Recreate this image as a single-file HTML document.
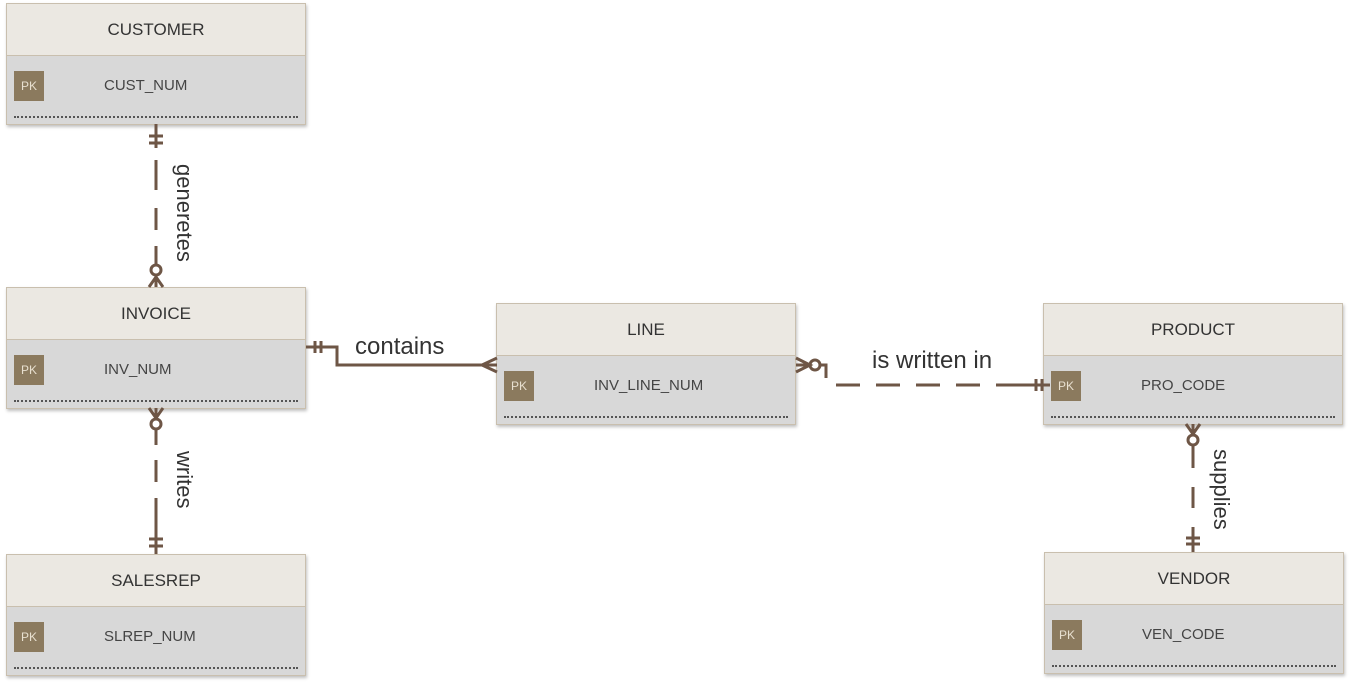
<!DOCTYPE html><html><head><style>
body{margin:0;width:1351px;height:685px;background:#fff;position:relative;overflow:hidden;font-family:"Liberation Sans",sans-serif}
.e{position:absolute;width:298px;height:120px;border:1px solid #c9bfae;box-shadow:1px 2px 3px rgba(0,0,0,.25);background:#d8d8d8}
.h{height:51px;background:#ebe8e2;border-bottom:1px solid #c9bfae;text-align:center;line-height:51px;font-size:17px;color:#333}
.pk{position:absolute;left:7px;top:67px;width:30px;height:30px;background:#8b7a5e;color:#e8e0d0;font-size:12px;line-height:30px;text-align:center}
.a{position:absolute;left:97px;top:67px;line-height:30px;font-size:15px;color:#444}
.d{position:absolute;left:7px;right:7px;top:112px;border-top:2px dotted #555}
.l{position:absolute;font-size:22px;color:#333;white-space:nowrap}
.v{transform-origin:0 0;transform:rotate(90deg)}
</style></head><body>
<div class="e" style="left:6px;top:3px"><div class="h">CUSTOMER</div><div class="pk">PK</div><div class="a">CUST_NUM</div><div class="d"></div></div>
<div class="e" style="left:6px;top:287px"><div class="h">INVOICE</div><div class="pk">PK</div><div class="a">INV_NUM</div><div class="d"></div></div>
<div class="e" style="left:6px;top:554px"><div class="h">SALESREP</div><div class="pk">PK</div><div class="a">SLREP_NUM</div><div class="d"></div></div>
<div class="e" style="left:496px;top:303px"><div class="h">LINE</div><div class="pk">PK</div><div class="a">INV_LINE_NUM</div><div class="d"></div></div>
<div class="e" style="left:1043px;top:303px"><div class="h">PRODUCT</div><div class="pk">PK</div><div class="a">PRO_CODE</div><div class="d"></div></div>
<div class="e" style="left:1044px;top:552px"><div class="h">VENDOR</div><div class="pk">PK</div><div class="a">VEN_CODE</div><div class="d"></div></div>
<svg width="1351" height="685" style="position:absolute;left:0;top:0" fill="none" stroke="#6e5646" stroke-width="3">
<path d="M156 124V148M149 136H163M149 143H163"/>
<path d="M156 160V190M156 208V230M156 246V264" />
<circle cx="156" cy="270" r="5"/>
<path d="M156 275V287M149 287L156 277L163 287"/>
<path d="M149 408L156 418L163 408M156 408V419"/>
<circle cx="156" cy="424" r="5"/>
<path d="M156 429V445M156 460V482M156 498V554M149 539H163M149 546H163" />
<path d="M306 347H337V365H497M315 341V353M321 341V353M497 358L482 365L497 372"/>
<path d="M796 358L810 365L796 372M796 365H810"/>
<circle cx="815" cy="365" r="5"/>
<path d="M820 365H826V378M836 385H860M876 385H900M916 385H940M956 385H980M996 385H1050M1036 379V391M1042 379V391"/>
<path d="M1186 424L1193 434L1200 424M1193 424V435"/>
<circle cx="1193" cy="440" r="5"/>
<path d="M1193 445V468M1193 487V508M1193 527V552M1186 538H1200M1186 544H1200"/>
</svg>
<div class="l v" style="left:197px;top:164px">generetes</div>
<div class="l v" style="left:197px;top:451px">writes</div>
<div class="l v" style="left:1234px;top:449px">supplies</div>
<div class="l" style="left:355px;top:333px;font-size:24px">contains</div>
<div class="l" style="left:872px;top:347px;font-size:24px">is written in</div>
</body></html>
